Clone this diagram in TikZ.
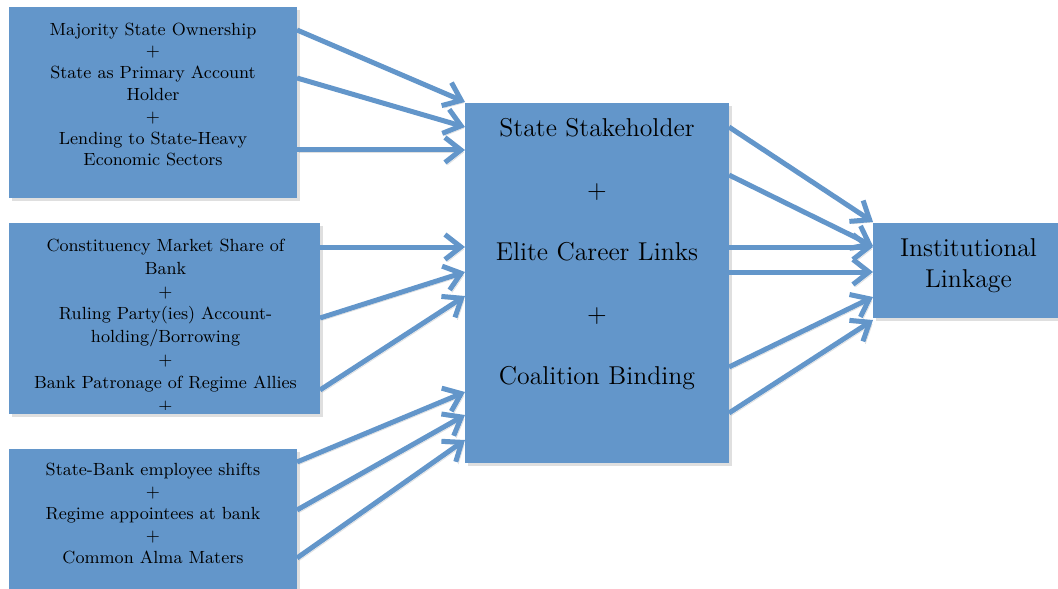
\documentclass[tikz,border=0pt]{standalone}
\usepackage{xcolor}
\usepackage{tikz}
\usetikzlibrary{arrows.meta,shadows}
\definecolor{boxblue}{RGB}{99,150,202}

\begin{document}
\begin{tikzpicture}[x=0.5pt,y=-0.5pt,
    box/.style={fill=boxblue,inner sep=0pt,outer sep=0pt,
      drop shadow={shadow xshift=1.5pt,shadow yshift=-1.5pt,opacity=0.25}},
    small/.style={align=center,inner sep=0pt,font=\fontsize{8.8}{10.9}\selectfont},
    big/.style={align=center,inner sep=0pt,font=\fontsize{12.9}{15.5}\selectfont},
    feed/.style={draw=boxblue,line width=2.5pt,-{Straight Barb[length=8pt,width=12.5pt]},
      preaction={draw=black,opacity=0.12,transform canvas={xshift=1.2pt,yshift=-1.2pt}}}]
    \useasboundingbox (0,0) rectangle (1058,588);
    % boxes
    \node[box,minimum width=144pt,minimum height=95.5pt] (own) at (153,102.5) {};
    \node[box,minimum width=155.5pt,minimum height=95.5pt] (party) at (164.5,318.5) {};
    \node[box,minimum width=144pt,minimum height=75.5pt] (elite) at (153,524.5) {};
    \node[box,minimum width=132pt,minimum height=180pt] (mech) at (597,283) {};
    \node[box,minimum width=98.5pt,minimum height=47.5pt] (inst) at (971.5,270.5) {};
    % texts
    \node[small] (ownT) at (153,94.5) {Majority State Ownership\\+\\State as Primary Account\\Holder\\+\\Lending to State-Heavy\\Economic Sectors};
    \begin{scope}
      \clip (party.north west) rectangle (party.east |- 0,409);
      \node[small,font=\fontsize{8.8}{11.4}\selectfont] (partyT) at (165.5,326) {Constituency Market Share of\\Bank\\+\\Ruling Party(ies) Account-\\holding/Borrowing\\+\\Bank Patronage of Regime Allies\\+};
    \end{scope}
    \node[small] (eliteT) at (153,513.5) {State-Bank employee shifts\\+\\Regime appointees at bank\\+\\Common Alma Maters};
    \node[big,font=\fontsize{12.9}{31}\selectfont] (mechT) at (597,254) {State Stakeholder\\+\\Elite Career Links\\+\\Coalition Binding};
    \node[big] (instT) at (968.5,265.5) {Institutional\\Linkage};
    % arrows into the middle box
    \draw[feed] (own.east |- 0,30) -- (mech.west |- 0,102);
    \draw[feed] (own.east |- 0,78) -- (mech.west |- 0,127);
    \draw[feed] (own.east |- 0,150) -- (mech.west |- 0,150);
    \draw[feed] (party.east |- 0,247) -- (mech.west |- 0,247);
    \draw[feed] (party.east |- 0,318) -- (mech.west |- 0,272);
    \draw[feed] (party.east |- 0,390) -- (mech.west |- 0,296);
    \draw[feed] (elite.east |- 0,462) -- (mech.west |- 0,392);
    \draw[feed] (elite.east |- 0,510) -- (mech.west |- 0,415);
    \draw[feed] (elite.east |- 0,558) -- (mech.west |- 0,440);
    % arrows into the outcome
    \draw[feed] (mech.east |- 0,127) -- (inst.west |- 0,222);
    \draw[feed] (mech.east |- 0,175) -- (inst.west |- 0,246);
    \draw[feed] (mech.east |- 0,247) -- (inst.west |- 0,247);
    \draw[feed] (mech.east |- 0,272) -- (inst.west |- 0,272);
    \draw[feed] (mech.east |- 0,367) -- (inst.west |- 0,297);
    \draw[feed] (mech.east |- 0,413) -- (inst.west |- 0,320);
\end{tikzpicture}
\end{document}
